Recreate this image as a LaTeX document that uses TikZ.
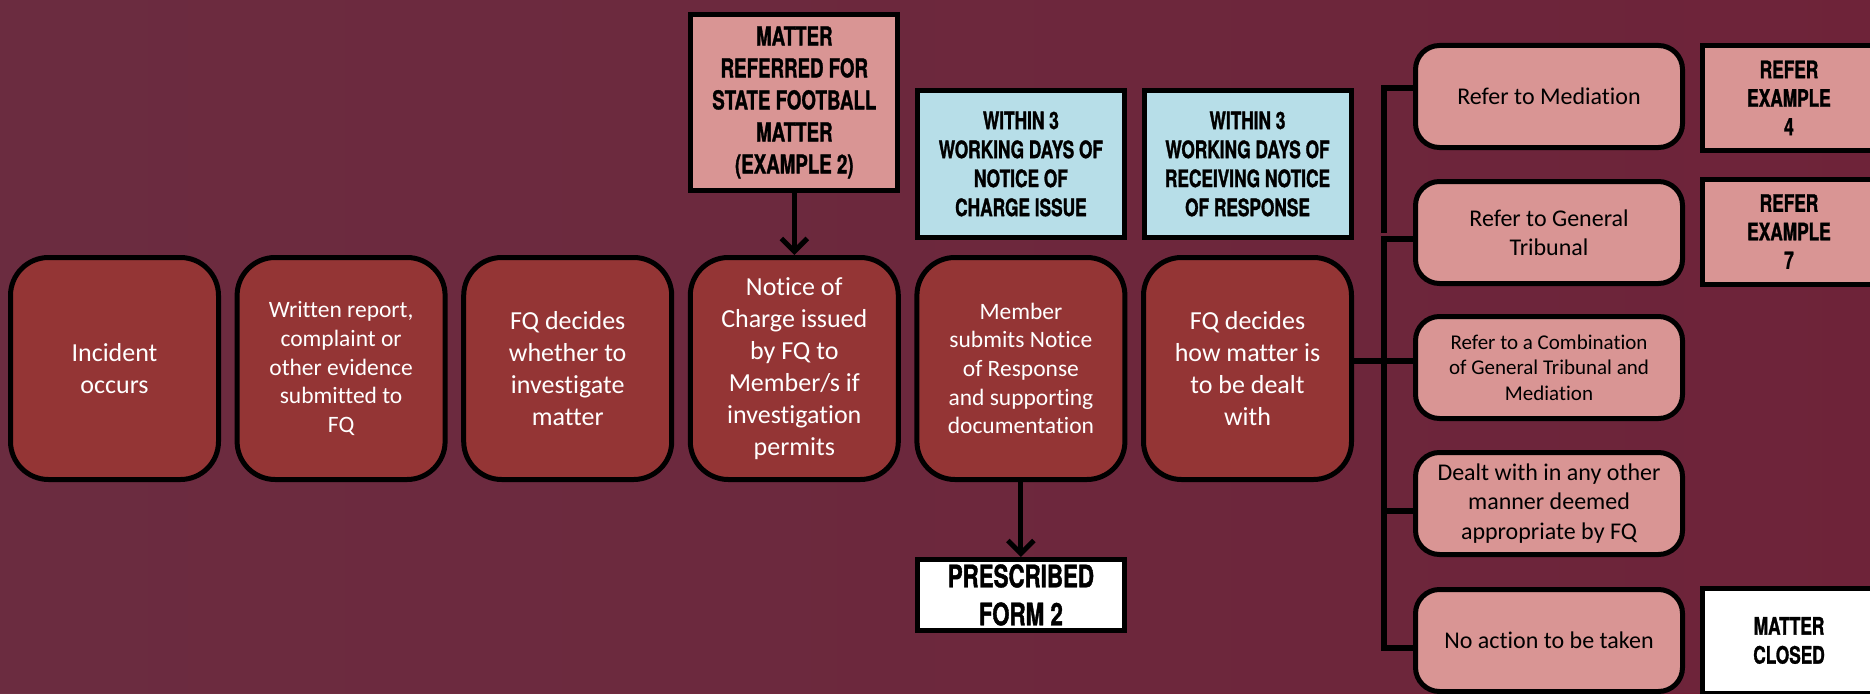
\documentclass[tikz,border=0pt]{standalone}
\usepackage{fontspec}
\setmainfont[Ligatures=NoCommon]{Carlito}
\newfontfamily\hdr[FakeStretch=0.72,FakeBold=1.2]{TeX Gyre Heros}
\usetikzlibrary{arrows.meta,calc}
\definecolor{bgc}{HTML}{6A2A3F}
\definecolor{bgl}{HTML}{6E3043}
\definecolor{bgr}{HTML}{731D34}
\definecolor{mainc}{HTML}{943535}
\definecolor{pinkc}{HTML}{D99594}
\definecolor{bluec}{HTML}{B7DEE8}
\tikzset{
  mainbox/.style={draw=black, line width=5pt, fill=mainc, rounded corners=38pt,
    minimum width=208pt, minimum height=222pt, inner sep=0pt, align=center,
    text=white, font=\fontsize{26}{32}\selectfont},
  smalltext/.style={font=\fontsize{23.5}{28.7}\selectfont},
  hdrbox/.style={draw=black, line width=5pt, inner sep=0pt, align=center,
    text=black, minimum width=207pt},
  sidebox/.style={draw=black, line width=5pt, fill=pinkc, rounded corners=24pt,
    minimum width=267pt, minimum height=102pt, inner sep=0pt, align=center,
    text=black, font=\fontsize{24}{29.3}\selectfont},
  refbox/.style={draw=black, line width=5pt, minimum width=173pt, minimum height=105pt,
    inner sep=0pt, align=center, text=black},
  conn/.style={draw=black, line width=6pt},
  arr/.style={draw=black, line width=5pt, -{Straight Barb[length=13pt,width=26pt,line width=5pt]}}
}
\begin{document}
\begin{tikzpicture}[x=1pt,y=-1pt]
\useasboundingbox (0,0) rectangle (1870,693);
\clip (0,0) rectangle (1870,693);
\shade[left color=bgl, right color=bgr] (0,0) rectangle (1870,693);
\fill[bgc, opacity=0.5] (0,0) rectangle (1870,693);

% main row
\node[mainbox] (m1) at (114.5,368.5) {Incident\\occurs};
\node[mainbox, smalltext] (m2) at (341.1,368.5) {Written report,\\complaint or\\other evidence\\submitted to\\FQ};
\node[mainbox] (m3) at (567.7,368.5) {FQ decides\\whether to\\investigate\\matter};
\node[mainbox] (m4) at (794.3,368.5) {Notice of\\Charge issued\\by FQ to\\Member/s if\\investigation\\permits};
\node[mainbox, smalltext] (m5) at (1020.9,368.5) {Member\\submits Notice\\of Response\\and supporting\\documentation};
\node[mainbox] (m6) at (1247.5,368.5) {FQ decides\\how matter is\\to be dealt\\with};

% header boxes
\node[hdrbox, fill=pinkc, minimum height=176pt, font=\hdr\bfseries\fontsize{26}{32}\selectfont] (top) at (794.3,102.5)
  {MATTER\\REFERRED FOR\\STATE FOOTBALL\\MATTER\\(EXAMPLE 2)};
\node[hdrbox, fill=bluec, minimum height=147pt, font=\hdr\bfseries\fontsize{24}{29}\selectfont] (bl1) at (1020.9,164)
  {WITHIN 3\\WORKING DAYS OF\\NOTICE OF\\CHARGE ISSUE};
\node[hdrbox, fill=bluec, minimum height=147pt, font=\hdr\bfseries\fontsize{24}{29}\selectfont] (bl2) at (1247.5,164)
  {WITHIN 3\\WORKING DAYS OF\\RECEIVING NOTICE\\OF RESPONSE};
\node[hdrbox, fill=white, minimum height=71pt, font=\hdr\bfseries\fontsize{31}{38}\selectfont] (pf) at (1020.9,595)
  {PRESCRIBED\\FORM 2};

% side boxes
\node[sidebox] (r1) at (1549,96.5) {Refer to Mediation};
\node[sidebox] (r2) at (1549,232.5) {Refer to General\\Tribunal};
\node[sidebox, font=\fontsize{21}{25.6}\selectfont] (r3) at (1549,367.5) {Refer to a Combination\\of General Tribunal and\\Mediation};
\node[sidebox] (r4) at (1549,503.5) {Dealt with in any other\\manner deemed\\appropriate by FQ};
\node[sidebox] (r5) at (1549,640.5) {No action to be taken};

% reference boxes
\node[refbox, fill=pinkc, font=\hdr\bfseries\fontsize{24}{28.5}\selectfont] (e4) at (1789,98) {REFER\\EXAMPLE\\4};
\node[refbox, fill=pinkc, font=\hdr\bfseries\fontsize{24}{28.5}\selectfont] (e7) at (1789,231.5) {REFER\\EXAMPLE\\7};
\node[refbox, fill=white, font=\hdr\bfseries\fontsize{24}{29}\selectfont] (mc) at (1789,640.5) {MATTER\\CLOSED};

% arrows
\draw[arr] (top.south) -- (m4.north);
\draw[arr] (m5.south) -- (pf.north);

% bracket connectors
\coordinate (ba) at (1384,88);
\coordinate (bb) at (1384,233);
\coordinate (b2) at (1384,239);
\coordinate (b3) at (1384,361);
\coordinate (b4) at (1384,511);
\coordinate (b5) at (1384,648);
\draw[conn] (r1.west |- ba) -- (ba) -- (bb);
\draw[conn] (r2.west |- b2) -- (b2) -- (b5) -- (r5.west |- b5);
\draw[conn] (m6.east |- b3) -- (r3.west |- b3);
\draw[conn] (b4) -- (r4.west |- b4);
\end{tikzpicture}
\end{document}
